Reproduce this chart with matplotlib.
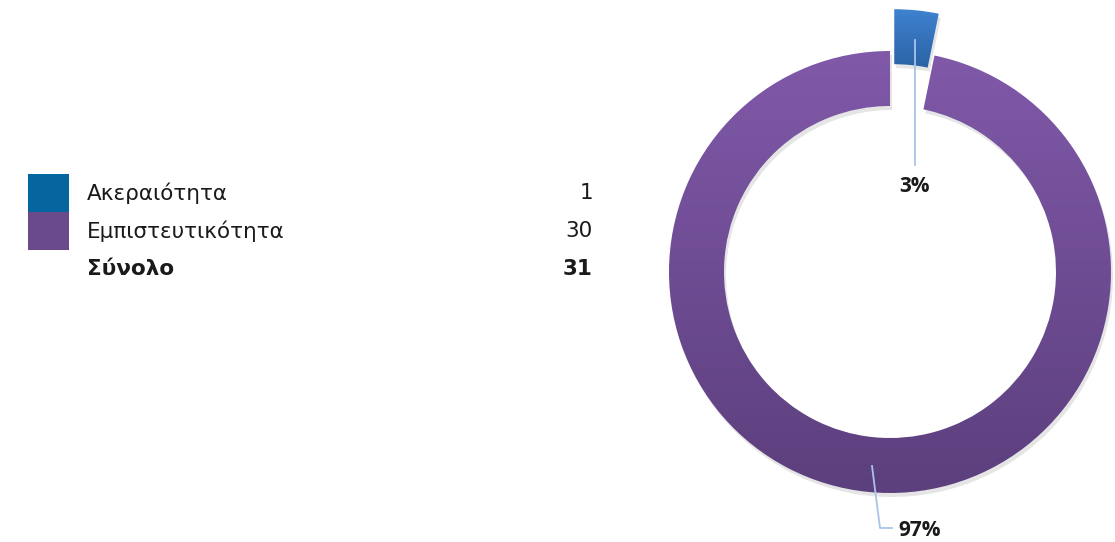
import numpy as np
import matplotlib
matplotlib.use("Agg")
import matplotlib.pyplot as plt
from matplotlib.patches import Rectangle

# data
categories = ["Ακεραιότητα", "Εμπιστευτικότητα"]
values = [1, 30]
total_label = "Σύνολο"
legend_colors = ["#05659f", "#6a4a8b"]
# gradient (top, bottom) for each wedge
grad_colors = [("#3f82cf", "#2a62a6"), ("#8059a9", "#5c3f7d")]

W, H = 1115, 542
fig = plt.figure(figsize=(W / 100, H / 100), dpi=100)
ax = fig.add_axes([0, 0, 1, 1])

cx, cy, R, ring = 890, 270, 221, 55

# soft shadow under the ring
sh, _ = ax.pie(values, center=(cx + 2, cy - 4), radius=R, startangle=90,
               counterclock=False, explode=[42, 0], frame=True,
               wedgeprops=dict(width=ring, linewidth=0, facecolor="#000000", alpha=0.10))

wedges, _ = ax.pie(values, center=(cx, cy), radius=R, startangle=90,
                   counterclock=False, explode=[42, 0], frame=True,
                   wedgeprops=dict(width=ring, linewidth=0))
ax.set_xlim(0, W)
ax.set_ylim(0, H)
ax.set_aspect("equal")
ax.axis("off")

# vertical gradient fill clipped to each wedge
for w, (top, bot) in zip(wedges, grad_colors):
    w.set_facecolor("none")
    c1 = np.array(matplotlib.colors.to_rgb(top))
    c2 = np.array(matplotlib.colors.to_rgb(bot))
    bb = w.get_path().get_extents()
    t = np.linspace(0, 1, 256)[:, None]
    img = (c1 * (1 - t) + c2 * t)[:, None, :]
    im = ax.imshow(img, extent=[bb.x0, bb.x1, bb.y0, bb.y1], origin="upper",
                   aspect="auto", zorder=2)
    im.set_clip_path(w)

# percentage labels with leader lines
pct = [v / sum(values) * 100 for v in values]
lab_font = dict(family="Open Sans", fontweight="bold", fontsize=15, color="#1a1a1a")
ax.plot([915, 915], [H - 40, H - 165], color="#a9c4e8", lw=1.3, zorder=3)
ax.text(914, H - 186, f"{pct[0]:.0f}%", ha="center", va="center", **lab_font)
ax.plot([872, 880, 892], [H - 466, H - 528, H - 528], color="#a9c4e8", lw=1.3, zorder=3)
ax.text(920, H - 531, f"{pct[1]:.0f}%", ha="center", va="center", **lab_font)

# legend table on the left
txt = dict(family="DejaVu Sans", fontsize=15.5, color="#1a1a1a", va="center")
rows_y = [193, 231]
for (name, val, col, y) in zip(categories, values, legend_colors, rows_y):
    ax.add_patch(Rectangle((28, H - y - 19), 41, 38, facecolor=col, lw=0))
    ax.text(87, H - y, name, ha="left", **txt)
    ax.text(593, H - y, str(val), ha="right", **txt)
ax.text(87, H - 269, total_label, ha="left", fontweight="bold", **txt)
ax.text(593, H - 269, str(sum(values)), ha="right", fontweight="bold", **txt)

fig.savefig("out.png", dpi=100)
